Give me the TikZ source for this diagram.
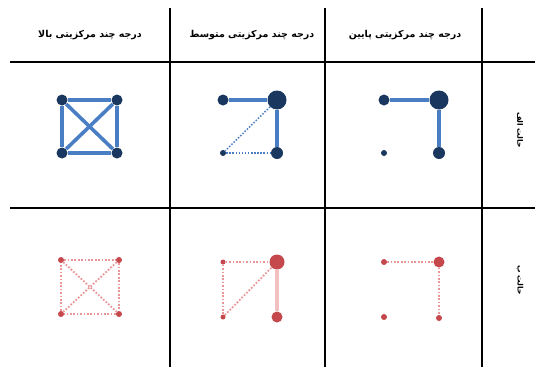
\documentclass[tikz,border=0pt]{standalone}
\usepackage{fontspec}
\newfontfamily\farsifont[Script=Arabic]{DejaVu Sans}
\TeXXeTstate=1
\definecolor{edgeblue}{RGB}{74,126,196}
\definecolor{nodenavy}{RGB}{25,55,95}
\definecolor{nodered}{RGB}{196,72,76}
\definecolor{edgepink}{RGB}{234,150,152}
\definecolor{edgerose}{RGB}{242,192,192}

\begin{document}
\begin{tikzpicture}[x=1pt, y=-1pt,
    every node/.style={font=\farsifont\bfseries\fontsize{9.5}{11}\selectfont},
    navydot/.style={circle, fill=nodenavy, inner sep=0pt, minimum size=#1},
    reddot/.style={circle, fill=nodered, inner sep=0pt, minimum size=#1},
    strongblue/.style={draw=edgeblue, line width=3.6pt},
    weakblue/.style={draw=edgeblue, line width=1.5pt, dash pattern=on 1.5pt off 1.6pt},
    strongred/.style={draw=edgerose, line width=3.6pt},
    weakred/.style={draw=edgepink, line width=1.8pt, dash pattern=on 1.7pt off 1.7pt}]
  \useasboundingbox (0,0) rectangle (535,367);
  \fill[white] (0,0) rectangle (535,367);

  %% ---------- table rules ----------
  \draw[line width=1.8pt] (10,62) -- (535,62);
  \draw[line width=1.8pt] (10,208) -- (535,208);
  \foreach \x in {170,325,482}
    \draw[line width=1.8pt] (\x,8) -- (\x,367);

  %% ---------- headers ----------
  \node (hhigh) at (90,35)  {\beginR درجه چند مرکزیتی بالا\endR};
  \node (hmid)  at (252,35) {\beginR درجه چند مرکزیتی متوسط\endR};
  \node (hlow)  at (405,35) {\beginR درجه چند مرکزیتی پایین\endR};
  \node[rotate=-90, font=\farsifont\bfseries\fontsize{7.5}{9}\selectfont]
    (rowa) at (520,130) {\beginR حالت الف\endR};
  \node[rotate=-90, font=\farsifont\bfseries\fontsize{7.5}{9}\selectfont]
    (rowb) at (520,280) {\beginR حالت ب\endR};

  %% ---------- case a: high ----------
  \node[navydot=11pt] (a1) at (62,100) {};
  \node[navydot=11pt] (a2) at (117,100) {};
  \node[navydot=11pt] (a3) at (62,153) {};
  \node[navydot=11pt] (a4) at (117,153) {};
  \path[every edge/.style={strongblue}]
    (a1) edge (a2) (a2) edge (a4) (a4) edge (a3) (a3) edge (a1)
    (a1) edge (a4) (a2) edge (a3);

  %% ---------- case a: medium ----------
  \node[navydot=11pt] (b1) at (223,100) {};
  \node[navydot=19pt] (b2) at (277,100) {};
  \node[navydot=12pt] (b3) at (277,153) {};
  \node[navydot=6pt]  (b4) at (223,153) {};
  \path[every edge/.style={strongblue}] (b1) edge (b2) (b2) edge (b3);
  \path[every edge/.style={weakblue}] (b2) edge (b4) (b4) edge (b3);

  %% ---------- case a: low ----------
  \node[navydot=11pt] (c1) at (384,100) {};
  \node[navydot=19pt] (c2) at (439,100) {};
  \node[navydot=12pt] (c3) at (439,153) {};
  \node[navydot=6pt]  (c4) at (384,153) {};
  \path[every edge/.style={strongblue}] (c1) edge (c2) (c2) edge (c3);

  %% ---------- case b: high ----------
  \node[reddot=6pt] (d1) at (61,260) {};
  \node[reddot=6pt] (d2) at (119,260) {};
  \node[reddot=6pt] (d3) at (61,314) {};
  \node[reddot=6pt] (d4) at (119,314) {};
  \path[every edge/.style={weakred}]
    (d1) edge (d2) (d2) edge (d4) (d4) edge (d3) (d3) edge (d1)
    (d1) edge (d4) (d2) edge (d3);

  %% ---------- case b: medium ----------
  \node[reddot=5pt]  (e1) at (223,262) {};
  \node[reddot=15pt] (e2) at (277,262) {};
  \node[reddot=11pt] (e3) at (277,317) {};
  \node[reddot=5pt]  (e4) at (223,317) {};
  \path[every edge/.style={strongred}] (e2) edge (e3);
  \path[every edge/.style={weakred}] (e1) edge (e2) (e1) edge (e4) (e4) edge (e2);

  %% ---------- case b: low ----------
  \node[reddot=6pt]  (f1) at (384,262) {};
  \node[reddot=11pt] (f2) at (439,262) {};
  \node[reddot=6pt]  (f3) at (439,318) {};
  \node[reddot=6pt]  (f4) at (384,317) {};
  \path[every edge/.style={weakred}] (f1) edge (f2) (f2) edge (f3);
\end{tikzpicture}
\end{document}
